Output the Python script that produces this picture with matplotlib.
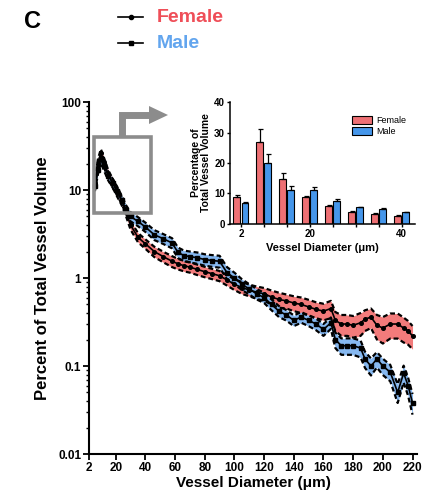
import matplotlib
matplotlib.use("Agg")
import matplotlib.pyplot as plt
import numpy as np
from matplotlib.lines import Line2D
from matplotlib.patches import Rectangle, Polygon, Patch

plt.rcParams['font.family'] = ['Liberation Sans', 'DejaVu Sans']
plt.rcParams['font.weight'] = 'bold'

# ---- main curve data (percent of total vessel volume vs diameter) ----
diameter = [6, 8, 10, 12, 15, 18, 21, 24, 27, 30, 35, 40, 46, 52, 58, 62, 66, 70, 75, 80,
            85, 90, 95, 100, 105, 110, 115, 120, 125, 130, 135, 140, 145, 150, 155, 160,
            165, 168, 172, 176, 180, 185, 188, 192, 196, 200, 205, 210, 214, 217, 220]

female_mean = [12, 20, 26, 21, 15, 12, 9.5, 7.6, 5.6, 4.0, 2.9, 2.45, 2.0, 1.75, 1.55, 1.45,
               1.38, 1.33, 1.25, 1.18, 1.12, 1.06, 0.95, 0.85, 0.78, 0.73, 0.69, 0.66, 0.61,
               0.57, 0.55, 0.52, 0.50, 0.47, 0.44, 0.42, 0.45, 0.33, 0.30, 0.30, 0.29, 0.31,
               0.34, 0.36, 0.29, 0.27, 0.30, 0.30, 0.27, 0.25, 0.22]
female_sem = [1.4, 2.4, 3.2, 2.6, 1.8, 1.4, 1.1, 0.85, 0.6, 0.45, 0.35, 0.3, 0.27, 0.24, 0.22,
              0.2, 0.19, 0.18, 0.17, 0.16, 0.15, 0.14, 0.13, 0.12, 0.12, 0.11, 0.11, 0.11, 0.11,
              0.11, 0.1, 0.1, 0.1, 0.095, 0.09, 0.09, 0.1, 0.08, 0.08, 0.08, 0.08, 0.09,
              0.09, 0.09, 0.09, 0.09, 0.095, 0.095, 0.085, 0.075, 0.065]

male_mean = [11, 17, 23, 19, 14.5, 12, 9.8, 7.8, 6.0, 5.0, 4.4, 3.8, 3.1, 2.8, 2.5, 1.95,
             1.8, 1.75, 1.7, 1.62, 1.58, 1.55, 1.15, 1.0, 0.85, 0.75, 0.66, 0.60, 0.50, 0.42,
             0.38, 0.33, 0.36, 0.33, 0.30, 0.26, 0.31, 0.20, 0.17, 0.17, 0.17, 0.16, 0.12,
             0.10, 0.12, 0.10, 0.085, 0.05, 0.083, 0.06, 0.038]
male_sem = [1.3, 2.0, 2.7, 2.2, 1.7, 1.4, 1.1, 0.85, 0.7, 0.6, 0.52, 0.46, 0.4, 0.36, 0.33,
            0.27, 0.25, 0.25, 0.25, 0.24, 0.24, 0.24, 0.18, 0.15, 0.12, 0.1, 0.09, 0.08, 0.07,
            0.06, 0.052, 0.046, 0.05, 0.046, 0.045, 0.04, 0.046, 0.04, 0.036, 0.036, 0.036,
            0.035, 0.025, 0.022, 0.024, 0.021, 0.018, 0.012, 0.018, 0.014, 0.01]

# ---- inset bar data ----
bin_labels = ['2', '', '', '20', '', '', '', '40']
female_bar = [8.7, 26.8, 14.8, 8.9, 5.9, 3.9, 3.4, 2.6]
female_err = [0.7, 4.2, 1.9, 0.4, 0.3, 0.3, 0.2, 0.3]
male_bar = [6.9, 20.0, 11.3, 11.0, 7.6, 5.5, 5.0, 3.8]
male_err = [0.4, 3.0, 1.2, 1.2, 0.7, 0.2, 0.2, 0.2]

RED_FILL = '#F27B7B'
BLUE_FILL = '#86B8F0'
RED_BAR = '#EE7074'
BLUE_BAR = '#4596EA'
RED_TXT = '#EF4E58'
BLUE_TXT = '#62A5EE'
GRAY = '#8C8C8C'

fig = plt.figure(figsize=(4.33, 5.04), dpi=100)

# ============================================
# Main log plot
# ============================================
ax = fig.add_axes([0.2055, 0.0992, 0.7575, 0.6984])
x = np.array(diameter)
for mean, sem, col, mk in [(female_mean, female_sem, RED_FILL, 'o'),
                           (male_mean, male_sem, BLUE_FILL, 's')]:
    m = np.array(mean)
    s = np.array(sem)
    ax.fill_between(x, m - s, m + s, color=col, lw=0)
    ax.plot(x, m + s, color='k', ls=(0, (2.2, 1.3)), lw=1.6)
    ax.plot(x, m - s, color='k', ls=(0, (2.2, 1.3)), lw=1.6)
    ax.plot(x, m, color='k', lw=1.2, marker=mk, ms=2.6)

ax.set_yscale('log')
ax.set_ylim(0.01, 100)
ax.set_xlim(2, 223)
ax.set_xticks([2, 20, 40, 60, 80, 100, 120, 140, 160, 180, 200, 220])
ax.set_yticks([0.01, 0.1, 1, 10, 100])
ax.set_yticklabels(['0.01', '0.1', '1', '10', '100'])
ax.tick_params(axis='both', labelsize=8.5, width=1.3, length=4, pad=1.5)
ax.tick_params(axis='y', which='minor', width=1.0, length=2.5)
for side in ['top', 'right']:
    ax.spines[side].set_visible(False)
for side in ['left', 'bottom']:
    ax.spines[side].set_linewidth(1.5)
ax.set_xlabel('Vessel Diameter (\u03bcm)', fontsize=11, fontweight='bold', labelpad=2)
ax.set_ylabel('Percent of Total Vessel Volume', fontsize=12, fontweight='bold', labelpad=6)

# gray zoom box and elbow arrow
ax.add_patch(Rectangle((5.2, 5.5), 38.3, 34.5, fill=False, edgecolor=GRAY, lw=2.6, zorder=5))
fw, fh = 433.0, 504.0
fig.add_artist(Line2D([122 / fw, 122 / fw, 150 / fw], [1 - 137 / fh, 1 - 115 / fh, 1 - 115 / fh],
                      color=GRAY, lw=5, solid_joinstyle='miter', solid_capstyle='butt'))
fig.add_artist(Polygon([[149 / fw, 1 - 106 / fh], [149 / fw, 1 - 124 / fh], [168 / fw, 1 - 115 / fh]],
                       closed=True, color=GRAY, lw=0))

# ============================================
# Inset bar chart
# ============================================
ins = fig.add_axes([0.531, 0.5556, 0.427, 0.242])
pos = np.arange(len(female_bar))
ins.bar(pos - 0.175, female_bar, width=0.3, color=RED_BAR, edgecolor='k', lw=0.8,
        yerr=[np.zeros(len(female_err)), female_err], capsize=1.8,
        error_kw=dict(elinewidth=0.9, capthick=0.9), label='Female')
ins.bar(pos + 0.175, male_bar, width=0.3, color=BLUE_BAR, edgecolor='k', lw=0.8,
        yerr=[np.zeros(len(male_err)), male_err], capsize=1.8,
        error_kw=dict(elinewidth=0.9, capthick=0.9), label='Male')
ins.set_xlim(-0.48, 7.57)
ins.set_ylim(0, 40)
ins.set_yticks([0, 10, 20, 30, 40])
ins.set_xticks(pos)
ins.set_xticklabels(bin_labels)
ins.tick_params(axis='both', labelsize=7, width=1.0, length=2.5, pad=1)
for side in ['top', 'right']:
    ins.spines[side].set_visible(False)
for side in ['left', 'bottom']:
    ins.spines[side].set_linewidth(1.1)
ins.set_xlabel('Vessel Diameter (\u03bcm)', fontsize=8, fontweight='bold', labelpad=3)
ins.set_ylabel('Percentage of\nTotal Vessel Volume', fontsize=7.5, fontweight='bold',
               labelpad=2, linespacing=1.0)
ins.legend(handles=[Patch(facecolor=RED_BAR, edgecolor='k', lw=0.8, label='Female'),
                    Patch(facecolor=BLUE_BAR, edgecolor='k', lw=0.8, label='Male')],
           loc='upper right', bbox_to_anchor=(1.0, 0.95), frameon=False,
           prop=dict(size=6.5, weight='normal'), handlelength=2.2, handleheight=0.9,
           labelspacing=0.2, handletextpad=0.5)

# ============================================
# Panel letter and top legend
# ============================================
fig.text(24 / fw, 1 - 21 / fh, 'C', fontsize=17, fontweight='bold', ha='left', va='center')
for yy, mk, label, col in [(17, 'o', 'Female', RED_TXT), (43, 's', 'Male', BLUE_TXT)]:
    fig.add_artist(Line2D([118 / fw, 130.5 / fw, 143 / fw], [1 - yy / fh] * 3, color='k', lw=1.2,
                          marker=mk, ms=3, markevery=[1]))
    fig.text(157 / fw, 1 - (yy + 1) / fh, label, fontsize=14, fontweight='bold', color=col,
             ha='left', va='center')

plt.savefig('out.png', dpi=100)
